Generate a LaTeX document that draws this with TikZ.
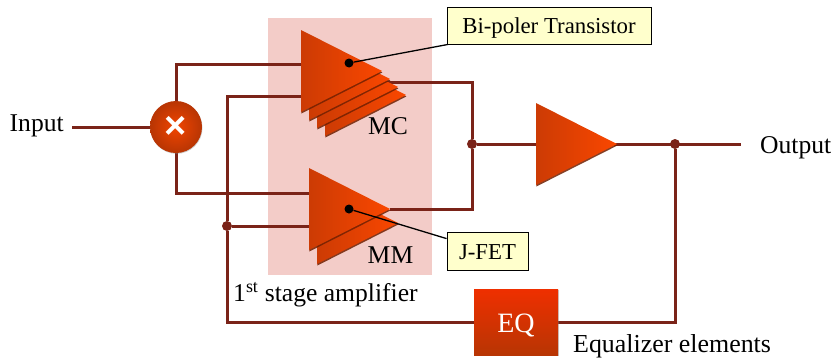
\documentclass[tikz,border=0pt]{standalone}
\usepackage{fontspec}
\setmainfont{Liberation Serif}
\newfontfamily\crossfont{Liberation Sans}
\usetikzlibrary{shapes.geometric,shadows,backgrounds}
\definecolor{wirered}{HTML}{7A2318}
\definecolor{stagepink}{HTML}{F3CCC8}
\definecolor{noteyellow}{HTML}{FFFFCC}
\definecolor{ampdark}{HTML}{CC3B04}
\definecolor{amplight}{HTML}{FA4700}

\begin{document}
\begin{tikzpicture}[x=1pt, y=-1pt]
\tikzstyle{amp} = [isosceles triangle, isosceles triangle stretches, shape border rotate=0, inner sep=0pt, outer sep=0pt, minimum width=82pt, minimum height=81pt, anchor=apex, left color=ampdark, right color=amplight, drop shadow={shadow xshift=0.4pt, shadow yshift=-1.5pt, opacity=0.85, fill=ampdark!55!black}]
\tikzstyle{wire} = [draw=wirered, line width=3pt]
\tikzstyle{junction} = [circle, fill=wirered, inner sep=0pt, minimum size=10pt]
\tikzstyle{pin} = [circle, fill=black, inner sep=0pt, minimum size=9pt]
\tikzstyle{note} = [rectangle, draw=black, line width=0.9pt, fill=noteyellow, inner sep=0pt, text height=16pt, text depth=0pt, font=\fontsize{22.8}{26}\selectfont]
\tikzstyle{label} = [inner sep=0pt, font=\fontsize{25.6}{30}\selectfont]

\useasboundingbox (0,0) rectangle (834,359);

\node[amp] (mcd) at (406,95) {};
\node[amp] (mcc) at (398,87) {};
\node[amp] (mcb) at (390,79) {};
\node[amp] (mca) at (382,71) {};
\node[amp] (mmb) at (398,223) {};
\node[amp] (mma) at (390,209) {};
\node[amp] (final) at (617,144) {};

\node[circle, inner sep=0pt, minimum size=52pt, inner color=amplight!80!ampdark, outer color=ampdark!90!black, text=white, drop shadow={shadow xshift=0.5pt, shadow yshift=-0.8pt, opacity=0.4}, font=\crossfont\bfseries\fontsize{38}{38}\selectfont] (mix) at (176,127) {×};
\node[rectangle, minimum width=84pt, minimum height=66pt, inner sep=0pt, top color=amplight!70!red!95!black, bottom color=ampdark!90!black, text=white, text height=20pt, text depth=0pt, font=\fontsize{28}{30}\selectfont, drop shadow={shadow xshift=0.5pt, shadow yshift=-0.8pt, opacity=0.4}] (eq) at (516,322) {EQ};

\node[note, minimum width=204pt, minimum height=37pt] (bipoler) at (549,25.5) {Bi-poler Transistor};
\node[note, minimum width=81pt, minimum height=38pt] (jfet) at (487.5,251) {J-FET};
\node[pin] (mcpin) at (349,63) {};
\node[pin] (mmpin) at (349,209) {};
\node[junction] (sum) at (472,144) {};
\node[junction] (tap) at (675,144) {};
\node[junction] (fb) at (227,226) {};

\node[label, anchor=base west] (input) at (9.5,131.7) {Input};
\node[label, anchor=base west] (output) at (760,153.3) {Output};
\node[label, anchor=base] (mc) at (388,134) {MC};
\node[label, anchor=base] (mm) at (390.5,263) {MM};
\node[label, anchor=base west] (stage) at (233,301.7) {1\textsuperscript{st} stage amplifier};
\node[label, anchor=base west, font=\fontsize{25.9}{30}\selectfont] (eqtext) at (573,352.7) {Equalizer elements};

\coordinate (inend) at (72,127);
\coordinate (outend) at (741,144);
\coordinate (mcup) at (305,64);
\coordinate (mcdown) at (305,96);
\coordinate (mcout) at (385,82);
\coordinate (mmup) at (315,193);
\coordinate (mmdown) at (315,226);

\begin{scope}[on background layer]
\node[rectangle, fill=stagepink, minimum width=164pt, minimum height=257pt, inner sep=0pt, drop shadow={shadow xshift=0pt, shadow yshift=0pt, opacity=0.3}] (stagebox) at (350,146.5) {};
\draw[wire] (inend) -- (mix);
\draw[wire] (mix) |- (mcup);
\draw[wire] (mix) |- (mmup);
\draw[wire] (mcdown) -| (fb) |- (eq.west);
\draw[wire] (fb) -- (mmdown);
\draw[wire] (mcout) -| (sum);
\draw[wire] (mma.apex) -| (sum);
\draw[wire] (sum) -- (final.apex);
\draw[wire] (final.apex) -- (outend);
\draw[wire] (tap) |- (eq.east);
\end{scope}

\draw[line width=1.3pt] (mcpin) -- (bipoler);
\draw[line width=1.3pt] (mmpin) -- (jfet);

\end{tikzpicture}
\end{document}
